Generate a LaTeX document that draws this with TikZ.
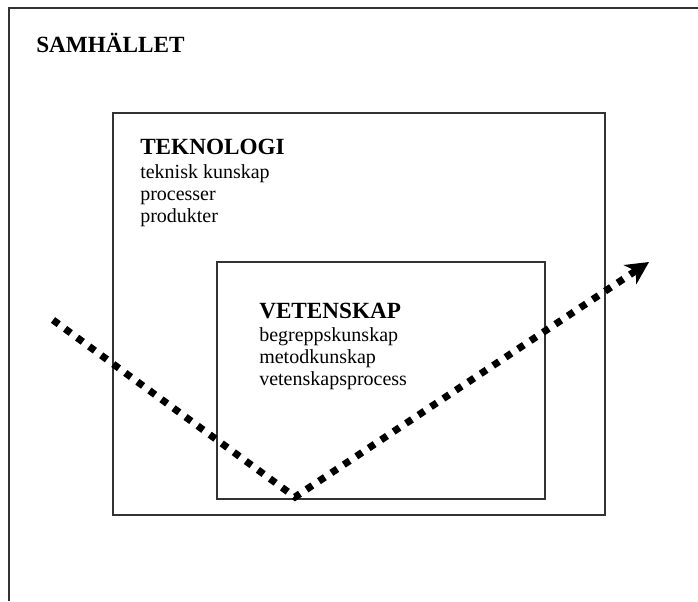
\documentclass[tikz,border=0pt]{standalone}
\usepackage{fontspec}
\setmainfont{Liberation Serif}
\usetikzlibrary{arrows.meta}

\begin{document}
\begin{tikzpicture}[x=0.75pt,y=-0.75pt]
	\tikzset{frame/.style={draw=black!80,line width=1.1pt}}
	\tikzset{heading/.style={anchor=base west,inner sep=0pt,font=\fontsize{17.4}{20}\selectfont\bfseries}}
	\tikzset{item/.style={anchor=base west,inner sep=0pt,font=\fontsize{15}{18}\selectfont}}
	\tikzset{path way/.style={line width=5.3pt,dash pattern=on 5.3pt off 5.9pt,-{Stealth[length=17pt,width=17pt,inset=5pt]}}}
	\useasboundingbox (0,0) rectangle (698,601);
	% society, technology, science
	\draw[frame] (698,8) -- (9,8) -- (9,601);
	\draw[frame] (113,113) rectangle (605,515);
	\draw[frame] (217,262) rectangle (545,499);
	\node[heading] (samh) at (36,52) {SAMHÄLLET};
	\node[heading] (tekn) at (140,154) {TEKNOLOGI};
	\node[item] (tekn1) at (140,178) {teknisk kunskap};
	\node[item] (tekn2) at (140,200) {processer};
	\node[item] (tekn3) at (140,222) {produkter};
	\node[heading] (vet) at (259,318) {VETENSKAP};
	\node[item] (vet1) at (259,341) {begreppskunskap};
	\node[item] (vet2) at (259,363) {metodkunskap};
	\node[item] (vet3) at (259,385) {vetenskapsprocess};
	% the way through
	\coordinate (in) at (53,320);
	\coordinate (turn) at (295,497);
	\coordinate (out) at (649,262);
	\draw[path way] (in) -- (turn) -- (out);
\end{tikzpicture}
\end{document}
